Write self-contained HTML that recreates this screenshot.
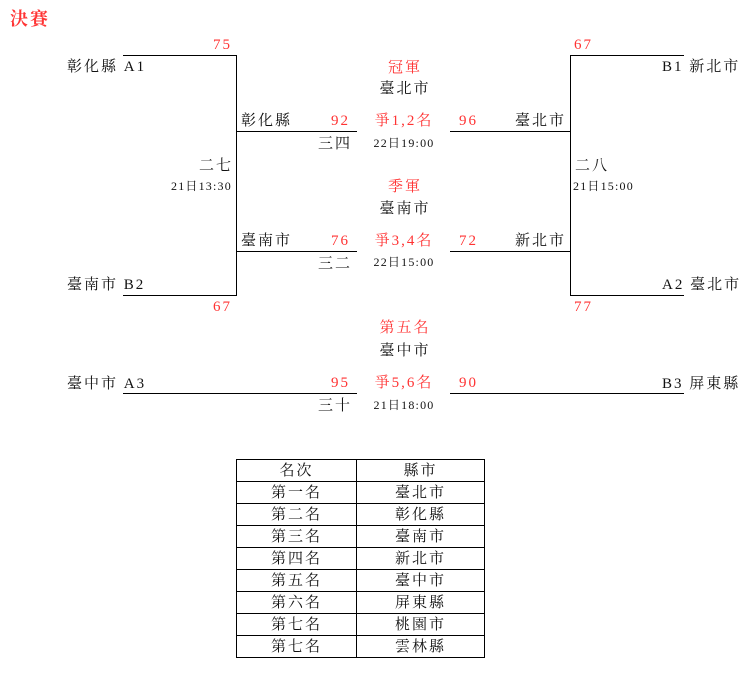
<!DOCTYPE html>
<html><head><meta charset="utf-8"><style>
body{margin:0;width:751px;height:680px;background:#fff;position:relative;overflow:hidden;font-family:"Liberation Serif","Noto Serif CJK SC",serif;color:#111}
.t{position:absolute;font-size:15px;line-height:16px;letter-spacing:2px;white-space:nowrap}
.s{position:absolute;font-size:12px;line-height:13px;white-space:nowrap;letter-spacing:1.2px}
.r{color:#f33}
.c{transform:translateX(-50%)}
.h{position:absolute;height:0;border-top:1.5px solid #000}
.v{position:absolute;width:0;border-left:1.5px solid #000}
table{position:absolute;left:236px;top:459px;border-collapse:collapse;font-size:15px;letter-spacing:2px}
td{border:1px solid #000;height:21px;padding:0;text-align:center;line-height:18px}
</style></head><body>
<div class="t r" style="left:10px;top:9px;font-size:18px;line-height:20px;font-weight:bold">決賽</div>

<div class="h" style="left:123px;top:55px;width:114px"></div>
<div class="v" style="left:236px;top:55px;height:241px"></div>
<div class="h" style="left:123px;top:295px;width:114px"></div>
<div class="h" style="left:236px;top:131px;width:121px"></div>
<div class="h" style="left:236px;top:251px;width:121px"></div>
<div class="h" style="left:123px;top:393px;width:234px"></div>

<div class="t r" style="left:213px;top:37px">75</div>
<div class="t" style="left:67px;top:59px">彰化縣 A1</div>
<div class="t" style="left:241px;top:113px">彰化縣</div>
<div class="t r" style="left:331px;top:113px">92</div>
<div class="t" style="left:318px;top:136px">三四</div>
<div class="t" style="left:199px;top:158px">二七</div>
<div class="s" style="left:171px;top:180px">21日13:30</div>
<div class="t" style="left:241px;top:233px">臺南市</div>
<div class="t r" style="left:331px;top:233px">76</div>
<div class="t" style="left:318px;top:256px">三二</div>
<div class="t" style="left:67px;top:277px">臺南市 B2</div>
<div class="t r" style="left:213px;top:299px">67</div>
<div class="t" style="left:67px;top:376px">臺中市 A3</div>
<div class="t r" style="left:331px;top:375px">95</div>
<div class="t" style="left:318px;top:398px">三十</div>

<div class="t r c" style="left:405px;top:60px">冠軍</div>
<div class="t c" style="left:405px;top:81px">臺北市</div>
<div class="t r c" style="left:404px;top:113px">爭1,2名</div>
<div class="s c" style="left:404px;top:137px">22日19:00</div>
<div class="t r c" style="left:405px;top:179px">季軍</div>
<div class="t c" style="left:405px;top:201px">臺南市</div>
<div class="t r c" style="left:404px;top:233px">爭3,4名</div>
<div class="s c" style="left:404px;top:256px">22日15:00</div>
<div class="t r c" style="left:405px;top:320px">第五名</div>
<div class="t c" style="left:405px;top:343px">臺中市</div>
<div class="t r c" style="left:404px;top:375px">爭5,6名</div>
<div class="s c" style="left:404px;top:399px">21日18:00</div>

<div class="h" style="left:570px;top:55px;width:114px"></div>
<div class="v" style="left:570px;top:55px;height:241px"></div>
<div class="h" style="left:570px;top:295px;width:114px"></div>
<div class="h" style="left:450px;top:131px;width:121px"></div>
<div class="h" style="left:450px;top:251px;width:121px"></div>
<div class="h" style="left:450px;top:393px;width:234px"></div>

<div class="t r" style="left:574px;top:37px">67</div>
<div class="t" style="left:662px;top:59px">B1 新北市</div>
<div class="t r" style="left:459px;top:113px">96</div>
<div class="t" style="left:515px;top:113px">臺北市</div>
<div class="t" style="left:575px;top:158px">二八</div>
<div class="s" style="left:573px;top:180px">21日15:00</div>
<div class="t r" style="left:459px;top:233px">72</div>
<div class="t" style="left:515px;top:233px">新北市</div>
<div class="t" style="left:662px;top:277px">A2 臺北市</div>
<div class="t r" style="left:574px;top:299px">77</div>
<div class="t r" style="left:459px;top:375px">90</div>
<div class="t" style="left:662px;top:376px">B3 屏東縣</div>

<table>
<tr><td style="width:119px">名次</td><td style="width:127px">縣市</td></tr>
<tr><td>第一名</td><td>臺北市</td></tr>
<tr><td>第二名</td><td>彰化縣</td></tr>
<tr><td>第三名</td><td>臺南市</td></tr>
<tr><td>第四名</td><td>新北市</td></tr>
<tr><td>第五名</td><td>臺中市</td></tr>
<tr><td>第六名</td><td>屏東縣</td></tr>
<tr><td>第七名</td><td>桃園市</td></tr>
<tr><td>第七名</td><td>雲林縣</td></tr>
</table>
</body></html>
